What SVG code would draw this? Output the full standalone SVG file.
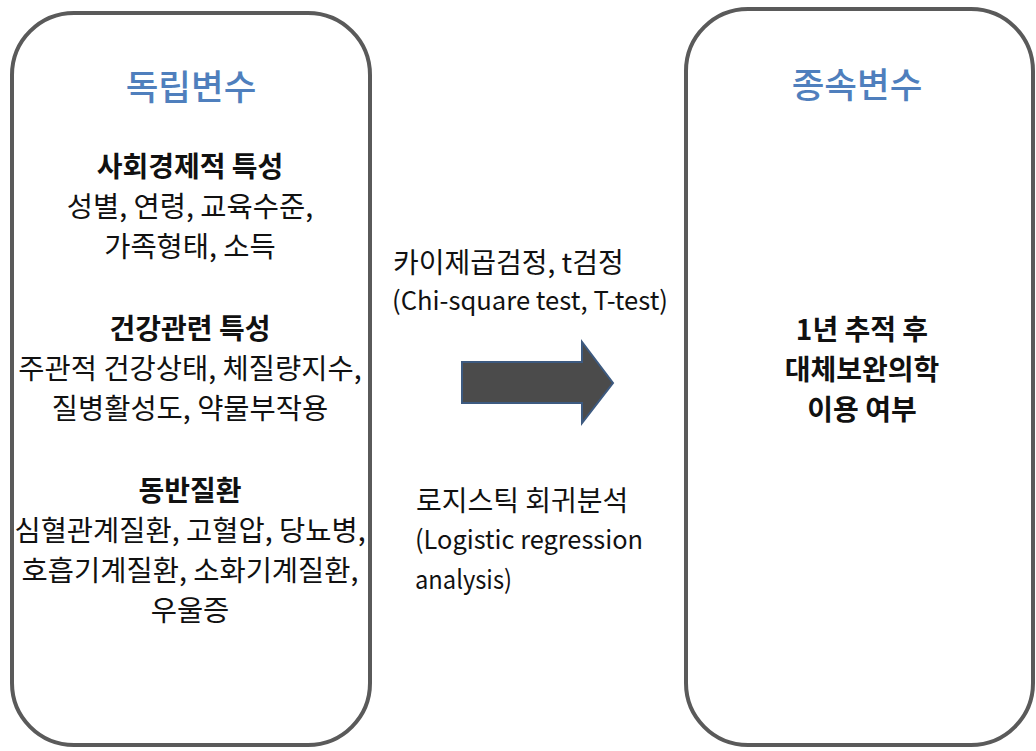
<svg xmlns="http://www.w3.org/2000/svg" width="1036" height="751" viewBox="0 0 1036 751">
<style>
.box{fill:#fff;stroke:#5a5a5a;stroke-width:4}
text{font-family:"Noto Sans CJK KR","Noto Sans",sans-serif;fill:#111}
.title{font-size:35.5px;fill:#4f7fbd;text-anchor:middle;font-weight:500}
.head{font-size:28px;font-weight:bold;text-anchor:middle}
.body{font-size:28.5px;text-anchor:middle}
.mid{font-size:28px}
.lat{font-size:26px}
</style>
<rect width="1036" height="751" fill="#fff"/>
<g id="independent">
<rect class="box" x="12" y="13" width="358" height="732" rx="62" ry="62"/>
<text class="title" x="191" y="100">독립변수</text>
<text class="head" x="190" y="177">사회경제적 특성</text>
<text class="body" x="190" y="217">성별, 연령, 교육수준,</text>
<text class="body" x="190" y="257">가족형태, 소득</text>
<text class="head" x="190" y="339">건강관련 특성</text>
<text class="body" x="190" y="379">주관적 건강상태, 체질량지수,</text>
<text class="body" x="190" y="419">질병활성도, 약물부작용</text>
<text class="head" x="190" y="501">동반질환</text>
<text class="body" x="190" y="541">심혈관계질환, 고혈압, 당뇨병,</text>
<text class="body" x="190" y="581">호흡기계질환, 소화기계질환,</text>
<text class="body" x="190" y="621">우울증</text>
</g>
<g id="dependent">
<rect class="box" x="686" y="9" width="347" height="736" rx="62" ry="62"/>
<text class="title" x="857" y="98">종속변수</text>
<text class="head" x="862" y="340">1년 추적 후</text>
<text class="head" x="862" y="380">대체보완의학</text>
<text class="head" x="862" y="420">이용 여부</text>
</g>
<g id="connectors">
<polygon points="462,362 582,362 582,342 613,383 582,423 582,403 462,403" fill="#4b4b4b" stroke="#3d5a80" stroke-width="2"/>
<text class="mid" x="393" y="273">카이제곱검정, t검정</text>
<text class="lat" x="392" y="310" textLength="276" lengthAdjust="spacingAndGlyphs">(Chi-square test, T-test)</text>
<text class="mid" x="416" y="511">로지스틱 회귀분석</text>
<text class="lat" x="415" y="549" textLength="228" lengthAdjust="spacingAndGlyphs">(Logistic regression</text>
<text class="lat" x="415" y="589" textLength="97" lengthAdjust="spacingAndGlyphs">analysis)</text>
</g>
</svg>
